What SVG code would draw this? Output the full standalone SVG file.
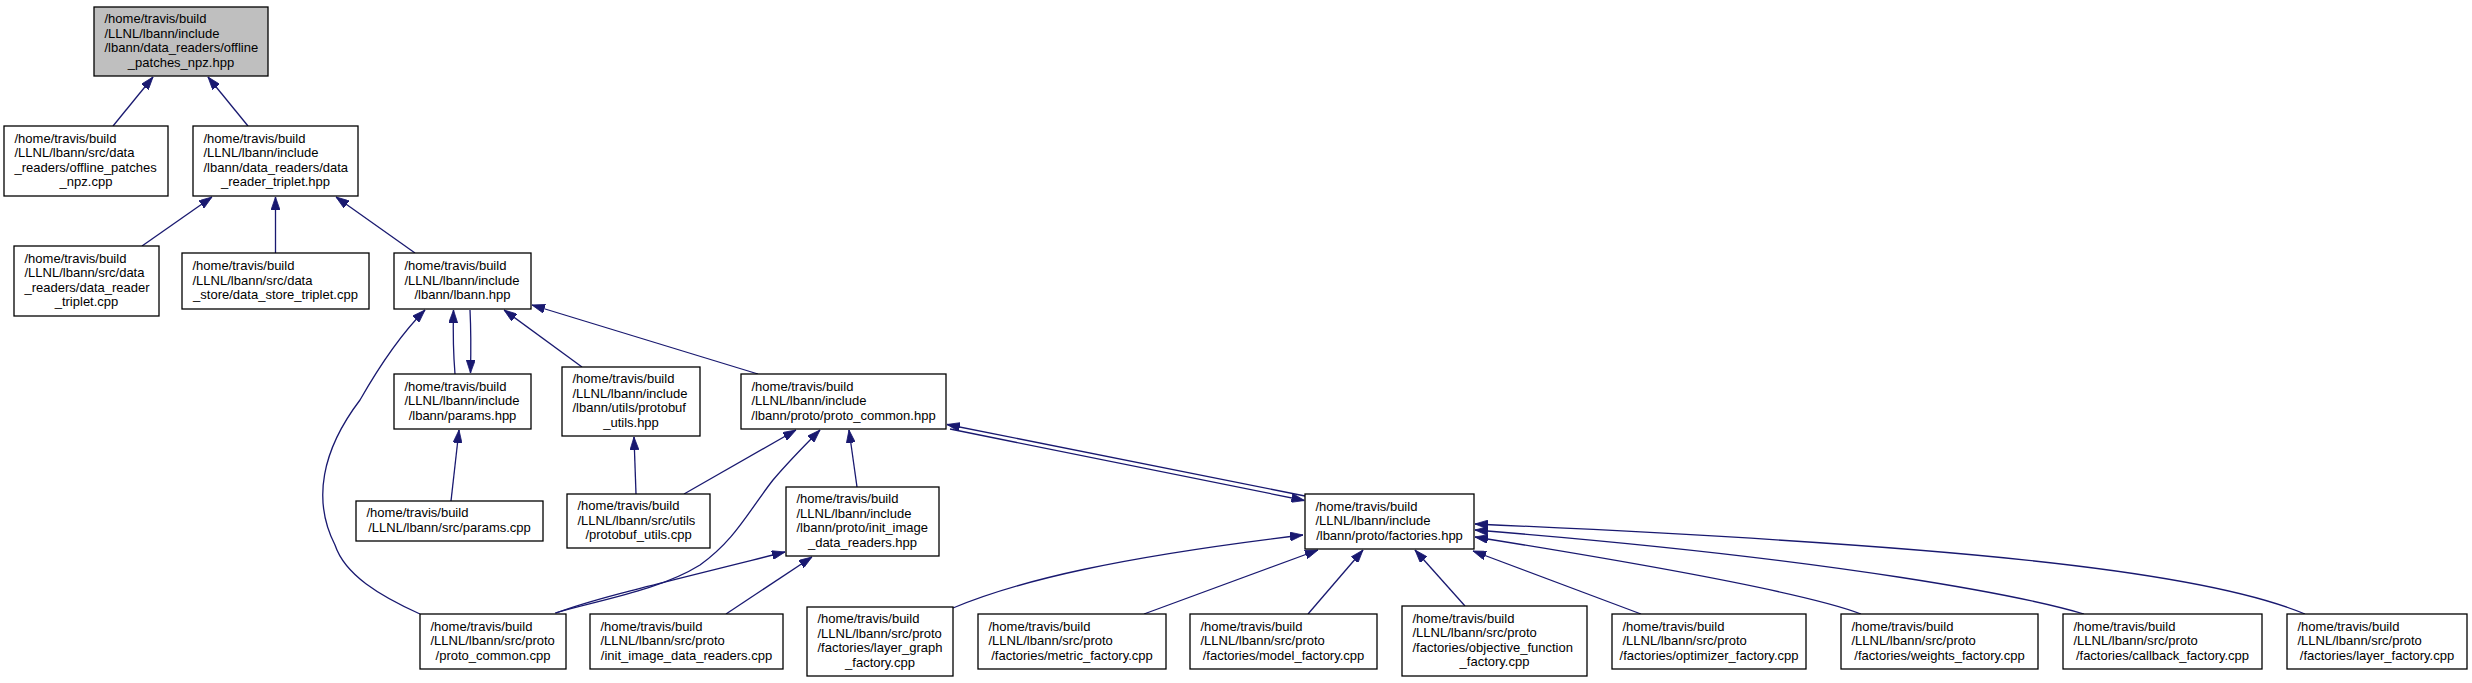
<svg xmlns="http://www.w3.org/2000/svg" width="2472" height="683" viewBox="0 0 2472 683">
<style>
.n rect{fill:#fff;stroke:#000;stroke-width:1.3}
.n.root rect{fill:#bfbfbf}
.n text{font-family:"Liberation Sans",Arial,Helvetica,sans-serif;font-size:13px;fill:#000}
.n text.c{text-anchor:middle}
.e path{fill:none;stroke:#191970;stroke-width:1.3;marker-end:url(#ah)}
</style>
<defs>
<marker id="ah" markerUnits="userSpaceOnUse" viewBox="0 0 13 9" refX="13" refY="4.5" markerWidth="13" markerHeight="9" orient="auto">
<path d="M0,0 L13,4.5 L0,9 z" fill="#191970" stroke="#191970" stroke-width="0.8"/>
</marker>
</defs>
<rect x="0" y="0" width="2472" height="683" fill="#fff"/>
<g id="edges" class="e">
<path d="M113,126 L153,77"/>
<path d="M248,126 L208,77"/>
<path d="M142,246 L212,197"/>
<path d="M275.5,253 L275.5,197"/>
<path d="M415,253 L336,197"/>
<path d="M455,374 C453,350 453,330 453.5,310"/>
<path d="M470,310 C471,330 471,350 470.5,373"/>
<path d="M582,367 L504,310"/>
<path d="M758,374 L532,305"/>
<path d="M420,614 C380,596 345,575 335,545 C312,500 322,450 360,400 C380,365 400,335 425,310"/>
<path d="M451,501 L459,430"/>
<path d="M636,494 L634,437"/>
<path d="M684,494 L796,430"/>
<path d="M555,613 C600,600 660,590 700,565 C735,540 748,512 773,480 C790,460 805,445 820,430"/>
<path d="M556,613 C590,600 640,588 785,552"/>
<path d="M726,614 L812,557"/>
<path d="M857,487 L849,430"/>
<path d="M1305,496 L947,424.5"/>
<path d="M950,429 L1304.5,500.5"/>
<path d="M953,608 C1020,580 1120,557 1303,535"/>
<path d="M1144,614 L1318,550"/>
<path d="M1308,614 L1363,550"/>
<path d="M1465,606 L1415,550"/>
<path d="M1641,614 L1473,551"/>
<path d="M1861,614 C1820,598 1700,573 1475,537"/>
<path d="M2084,614 C2030,598 1850,560 1475,530"/>
<path d="M2305,614 C2200,570 1950,545 1475,524"/>
</g>
<g id="n_root" class="n root"><rect x="94" y="7" width="174" height="69"/>
<text x="104.5" y="23.25">/home/travis/build</text><text x="104.5" y="37.75">/LLNL/lbann/include</text><text x="104.5" y="52.25">/lbann/data_readers/offline</text><text class="c" x="181" y="66.75">_patches_npz.hpp</text></g>
<g id="n_offline_cpp" class="n"><rect x="4" y="126" width="164" height="70"/>
<text x="14.5" y="142.75">/home/travis/build</text><text x="14.5" y="157.25">/LLNL/lbann/src/data</text><text x="14.5" y="171.75">_readers/offline_patches</text><text class="c" x="86" y="186.25">_npz.cpp</text></g>
<g id="n_triplet_hpp" class="n"><rect x="193" y="126" width="165" height="70"/>
<text x="203.5" y="142.75">/home/travis/build</text><text x="203.5" y="157.25">/LLNL/lbann/include</text><text x="203.5" y="171.75">/lbann/data_readers/data</text><text class="c" x="275.5" y="186.25">_reader_triplet.hpp</text></g>
<g id="n_dr_triplet_cpp" class="n"><rect x="14" y="246" width="145" height="70"/>
<text x="24.5" y="262.75">/home/travis/build</text><text x="24.5" y="277.25">/LLNL/lbann/src/data</text><text x="24.5" y="291.75">_readers/data_reader</text><text class="c" x="86.5" y="306.25">_triplet.cpp</text></g>
<g id="n_ds_triplet_cpp" class="n"><rect x="182" y="253" width="187" height="56"/>
<text x="192.5" y="270">/home/travis/build</text><text x="192.5" y="284.5">/LLNL/lbann/src/data</text><text class="c" x="275.5" y="299">_store/data_store_triplet.cpp</text></g>
<g id="n_lbann_hpp" class="n"><rect x="394" y="253" width="137" height="56"/>
<text x="404.5" y="270">/home/travis/build</text><text x="404.5" y="284.5">/LLNL/lbann/include</text><text class="c" x="462.5" y="299">/lbann/lbann.hpp</text></g>
<g id="n_params_hpp" class="n"><rect x="394" y="374" width="137" height="55"/>
<text x="404.5" y="390.5">/home/travis/build</text><text x="404.5" y="405">/LLNL/lbann/include</text><text class="c" x="462.5" y="419.5">/lbann/params.hpp</text></g>
<g id="n_protobuf_hpp" class="n"><rect x="562" y="367" width="138" height="69"/>
<text x="572.5" y="383.25">/home/travis/build</text><text x="572.5" y="397.75">/LLNL/lbann/include</text><text x="572.5" y="412.25">/lbann/utils/protobuf</text><text class="c" x="631" y="426.75">_utils.hpp</text></g>
<g id="n_proto_common_hpp" class="n"><rect x="741" y="374" width="205" height="55"/>
<text x="751.5" y="390.5">/home/travis/build</text><text x="751.5" y="405">/LLNL/lbann/include</text><text class="c" x="843.5" y="419.5">/lbann/proto/proto_common.hpp</text></g>
<g id="n_params_cpp" class="n"><rect x="356" y="501" width="187" height="40"/>
<text x="366.5" y="517.25">/home/travis/build</text><text class="c" x="449.5" y="531.75">/LLNL/lbann/src/params.cpp</text></g>
<g id="n_protobuf_cpp" class="n"><rect x="567" y="494" width="143" height="54"/>
<text x="577.5" y="510">/home/travis/build</text><text x="577.5" y="524.5">/LLNL/lbann/src/utils</text><text class="c" x="638.5" y="539">/protobuf_utils.cpp</text></g>
<g id="n_init_image_hpp" class="n"><rect x="786" y="487" width="153" height="69"/>
<text x="796.5" y="503.25">/home/travis/build</text><text x="796.5" y="517.75">/LLNL/lbann/include</text><text x="796.5" y="532.25">/lbann/proto/init_image</text><text class="c" x="862.5" y="546.75">_data_readers.hpp</text></g>
<g id="n_factories_hpp" class="n"><rect x="1305" y="494" width="169" height="55"/>
<text x="1315.5" y="510.5">/home/travis/build</text><text x="1315.5" y="525">/LLNL/lbann/include</text><text class="c" x="1389.5" y="539.5">/lbann/proto/factories.hpp</text></g>
<g id="n_proto_common_cpp" class="n"><rect x="420" y="614" width="146" height="55"/>
<text x="430.5" y="630.5">/home/travis/build</text><text x="430.5" y="645">/LLNL/lbann/src/proto</text><text class="c" x="493" y="659.5">/proto_common.cpp</text></g>
<g id="n_init_image_cpp" class="n"><rect x="590" y="614" width="193" height="55"/>
<text x="600.5" y="630.5">/home/travis/build</text><text x="600.5" y="645">/LLNL/lbann/src/proto</text><text class="c" x="686.5" y="659.5">/init_image_data_readers.cpp</text></g>
<g id="n_layer_graph_cpp" class="n"><rect x="807" y="607" width="146" height="69"/>
<text x="817.5" y="623.25">/home/travis/build</text><text x="817.5" y="637.75">/LLNL/lbann/src/proto</text><text x="817.5" y="652.25">/factories/layer_graph</text><text class="c" x="880" y="666.75">_factory.cpp</text></g>
<g id="n_metric_cpp" class="n"><rect x="978" y="614" width="188" height="55"/>
<text x="988.5" y="630.5">/home/travis/build</text><text x="988.5" y="645">/LLNL/lbann/src/proto</text><text class="c" x="1072" y="659.5">/factories/metric_factory.cpp</text></g>
<g id="n_model_cpp" class="n"><rect x="1190" y="614" width="187" height="55"/>
<text x="1200.5" y="630.5">/home/travis/build</text><text x="1200.5" y="645">/LLNL/lbann/src/proto</text><text class="c" x="1283.5" y="659.5">/factories/model_factory.cpp</text></g>
<g id="n_objective_cpp" class="n"><rect x="1402" y="606" width="185" height="70"/>
<text x="1412.5" y="622.75">/home/travis/build</text><text x="1412.5" y="637.25">/LLNL/lbann/src/proto</text><text x="1412.5" y="651.75">/factories/objective_function</text><text class="c" x="1494.5" y="666.25">_factory.cpp</text></g>
<g id="n_optimizer_cpp" class="n"><rect x="1612" y="614" width="194" height="55"/>
<text x="1622.5" y="630.5">/home/travis/build</text><text x="1622.5" y="645">/LLNL/lbann/src/proto</text><text class="c" x="1709" y="659.5">/factories/optimizer_factory.cpp</text></g>
<g id="n_weights_cpp" class="n"><rect x="1841" y="614" width="197" height="55"/>
<text x="1851.5" y="630.5">/home/travis/build</text><text x="1851.5" y="645">/LLNL/lbann/src/proto</text><text class="c" x="1939.5" y="659.5">/factories/weights_factory.cpp</text></g>
<g id="n_callback_cpp" class="n"><rect x="2063" y="614" width="199" height="55"/>
<text x="2073.5" y="630.5">/home/travis/build</text><text x="2073.5" y="645">/LLNL/lbann/src/proto</text><text class="c" x="2162.5" y="659.5">/factories/callback_factory.cpp</text></g>
<g id="n_layer_factory_cpp" class="n"><rect x="2287" y="614" width="180" height="55"/>
<text x="2297.5" y="630.5">/home/travis/build</text><text x="2297.5" y="645">/LLNL/lbann/src/proto</text><text class="c" x="2377" y="659.5">/factories/layer_factory.cpp</text></g>
</svg>
